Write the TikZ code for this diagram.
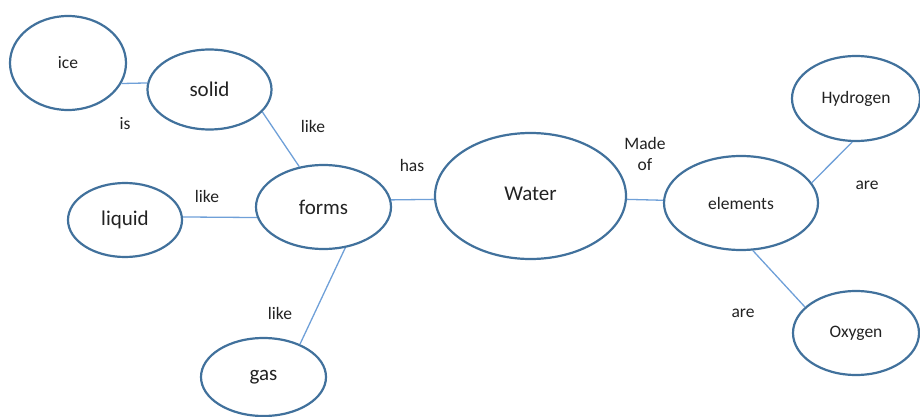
\documentclass[tikz,border=0pt]{standalone}
\usepackage{fontspec}
\setmainfont{Carlito}
\usetikzlibrary{shapes.geometric}
\definecolor{ringblue}{HTML}{41719C}
\definecolor{linkblue}{HTML}{6FA0D8}
\definecolor{txt}{HTML}{222222}
\tikzset{
  bubble/.style={ellipse, draw=ringblue, line width=2.2pt, inner sep=0pt, text=txt},
  bigtxt/.style={font=\fontsize{21}{24}\selectfont},
  smalltxt/.style={font=\fontsize{17.5}{21}\selectfont},
  link/.style={draw=linkblue, line width=1.3pt},
  lbl/.style={text=txt, inner sep=0pt, font=\fontsize{17.5}{21}\selectfont, align=center}
}
\begin{document}
\begin{tikzpicture}[x=1pt,y=-1pt]
\useasboundingbox (0,0) rectangle (920,417);
\node[bubble, smalltxt, minimum width=116pt, minimum height=94pt] (ice) at (68,63) {ice};
\node[bubble, bigtxt, minimum width=124pt, minimum height=80pt] (solid) at (209.5,89.5) {solid};
\node[bubble, bigtxt, minimum width=114pt, minimum height=74pt] (liquid) at (125,220) {liquid};
\node[bubble, bigtxt, minimum width=135pt, minimum height=84pt] (forms) at (323.5,207) {forms};
\node[bubble, bigtxt, minimum width=125pt, minimum height=78pt] (gas) at (263.5,377) {gas};
\node[bubble, bigtxt, minimum width=191pt, minimum height=126pt] (water) at (530.5,196) {\raisebox{4pt}{Water}};
\node[bubble, smalltxt, minimum width=154pt, minimum height=94pt] (elements) at (741,203) {elements};
\node[bubble, smalltxt, minimum width=128pt, minimum height=85pt] (hydrogen) at (856,98.5) {Hydrogen};
\node[bubble, smalltxt, minimum width=126pt, minimum height=84pt] (oxygen) at (856,333) {Oxygen};

\draw[link] (ice.-21) -- (solid.174);
\draw[link] (solid.-23) -- (forms.121);
\draw[link] (liquid.3) -- (forms.-171);
\draw[link] (forms.-62) -- (gas.42);
\draw[link] (forms.6) -- (water.-178);
\draw[link] (water.-2) -- (elements.178);
\draw[link] (elements.16.5) -- (hydrogen.-95);
\draw[link] (elements.-76.5) -- (oxygen.153);

\node[lbl] (lis) at (125,124) {is};
\node[lbl] (llike1) at (313,126) {like};
\node[lbl] (llike2) at (207,196) {like};
\node[lbl] (llike3) at (280,313) {like};
\node[lbl] (lhas) at (412,165) {has};
\node[lbl] (lmade) at (645,154) {Made\\of};
\node[lbl] (lare1) at (867,185) {are};
\node[lbl] (lare2) at (743,313) {are};
\end{tikzpicture}
\end{document}
